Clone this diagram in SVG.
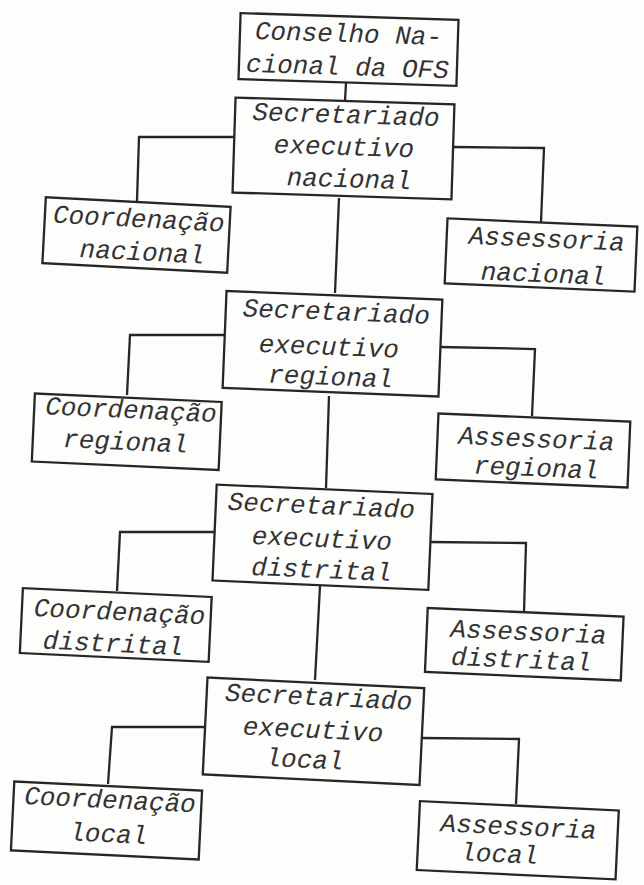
<svg xmlns="http://www.w3.org/2000/svg" width="644" height="885" viewBox="0 0 644 885">
<style>
.box{fill:none;stroke:#262626;stroke-width:2.3}
.t{font-family:"Liberation Mono","DejaVu Sans Mono",monospace;font-style:italic;font-size:26px;fill:#333;text-anchor:middle}
.c{fill:none;stroke:#262626;stroke-width:2.3;stroke-linejoin:miter}
</style>
<rect x="0" y="0" width="644" height="885" fill="#fdfdfc"/>
<g id="connectors">
<polyline class="c" points="346,83 345,101"/>
<polyline class="c" points="234,137 139,137 137,201"/>
<polyline class="c" points="453,147 544,148 541,222"/>
<polyline class="c" points="339,198 335,293"/>
<polyline class="c" points="224,335 130,335 127,395"/>
<polyline class="c" points="440,347 535,349 532,416"/>
<polyline class="c" points="329,396 326,488"/>
<polyline class="c" points="214,532 120,532 117,591"/>
<polyline class="c" points="430,542 526,543 524,612"/>
<polyline class="c" points="320,586 315,680"/>
<polyline class="c" points="205,727 112,727 108,784"/>
<polyline class="c" points="421,738 519,739 516,804"/>
</g>
<g id="conselho" transform="rotate(1.8 348.5 49.5)">
<rect class="box" x="239.5" y="16.5" width="218" height="66"/>
<text class="t" x="348" y="42">Conselho Na-</text>
<text class="t" x="348" y="75">cional da OFS</text>
</g>
<g id="sec-nacional" transform="rotate(1.8 343.5 148.5)">
<rect class="box" x="234" y="101" width="219" height="95"/>
<text class="t" x="345" y="123">Secretariado</text>
<text class="t" x="344" y="155">executivo</text>
<text class="t" x="350" y="187">nacional</text>
</g>
<g id="coord-nacional" transform="rotate(3 136.5 235)">
<rect class="box" x="44" y="202" width="185" height="66"/>
<text class="t" x="138" y="227">Coordenação</text>
<text class="t" x="143" y="260">nacional</text>
</g>
<g id="assess-nacional" transform="rotate(2.5 541 255)">
<rect class="box" x="446" y="222.5" width="190" height="65"/>
<text class="t" x="546" y="247">Assessoria</text>
<text class="t" x="544" y="282">nacional</text>
</g>
<g id="sec-regional" transform="rotate(2.3 332.5 343.75)">
<rect class="box" x="224.5" y="295.25" width="216" height="97"/>
<text class="t" x="335" y="320">Secretariado</text>
<text class="t" x="329" y="355">executivo</text>
<text class="t" x="332" y="385">regional</text>
</g>
<g id="coord-regional" transform="rotate(2.6 126.75 431.75)">
<rect class="box" x="33.25" y="397.75" width="187" height="68"/>
<text class="t" x="130" y="418">Coordenação</text>
<text class="t" x="126" y="450">regional</text>
</g>
<g id="assess-regional" transform="rotate(2.4 533 450.5)">
<rect class="box" x="437" y="417.5" width="192" height="66"/>
<text class="t" x="536" y="447">Assessoria</text>
<text class="t" x="537" y="476">regional</text>
</g>
<g id="sec-distrital" transform="rotate(2.5 322.5 537.25)">
<rect class="box" x="214.5" y="489.25" width="216" height="96"/>
<text class="t" x="320" y="514">Secretariado</text>
<text class="t" x="322" y="547">executivo</text>
<text class="t" x="323" y="578">distrital</text>
</g>
<g id="coord-distrital" transform="rotate(2.7 115.75 625)">
<rect class="box" x="21.25" y="592.5" width="189" height="65"/>
<text class="t" x="119" y="620">Coordenação</text>
<text class="t" x="114" y="652">distrital</text>
</g>
<g id="assess-distrital" transform="rotate(2.5 524.25 644.25)">
<rect class="box" x="426.25" y="612.25" width="196" height="64"/>
<text class="t" x="528" y="640">Assessoria</text>
<text class="t" x="522" y="668">distrital</text>
</g>
<g id="sec-local" transform="rotate(2.8 313.5 731.25)">
<rect class="box" x="205" y="682.75" width="217" height="97"/>
<text class="t" x="317" y="705">Secretariado</text>
<text class="t" x="313" y="738">executivo</text>
<text class="t" x="306" y="768">local</text>
</g>
<g id="coord-local" transform="rotate(2.8 106.5 820.5)">
<rect class="box" x="12.5" y="786" width="188" height="69"/>
<text class="t" x="109" y="808">Coordenação</text>
<text class="t" x="109" y="842">local</text>
</g>
<g id="assess-local" transform="rotate(2.7 517.75 840.25)">
<rect class="box" x="418.25" y="805.75" width="199" height="69"/>
<text class="t" x="518" y="835">Assessoria</text>
<text class="t" x="500" y="863">local</text>
</g>
</svg>
